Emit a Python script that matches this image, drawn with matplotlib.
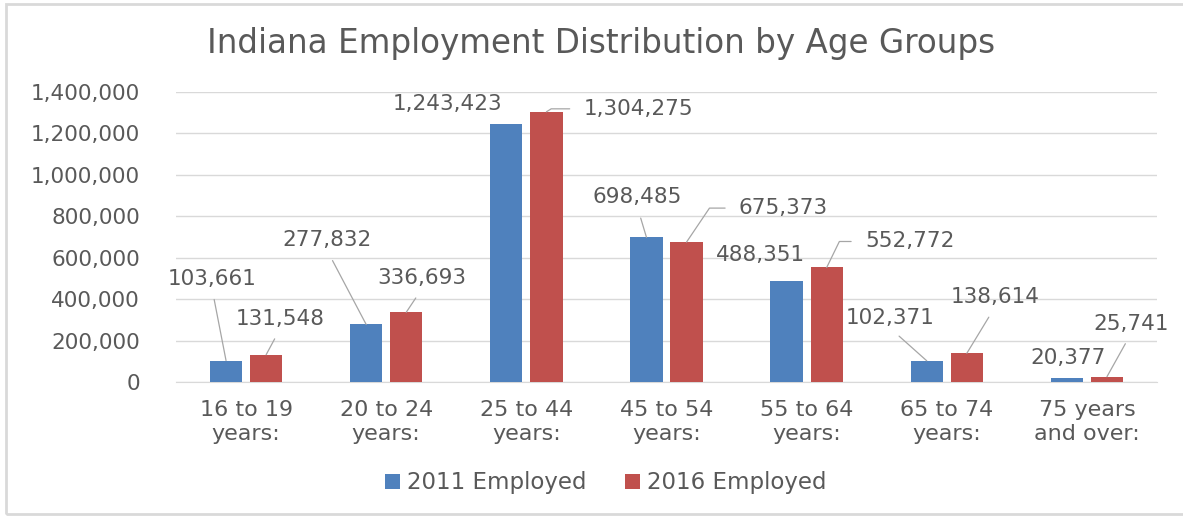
import numpy as np
import matplotlib.pyplot as plt
from matplotlib.patches import Rectangle

# --------------------
# Data
# --------------------
age_groups = ["16 to 19\nyears:", "20 to 24\nyears:", "25 to 44\nyears:", "45 to 54\nyears:",
              "55 to 64\nyears:", "65 to 74\nyears:", "75 years\nand over:"]
employed_2011 = [103661, 277832, 1243423, 698485, 488351, 102371, 20377]
employed_2016 = [131548, 336693, 1304275, 675373, 552772, 138614, 25741]

# callout placement: offset of label centre from bar top (pixels),
# and where the leader line leaves the label ("bottom", "left" or None)
offsets_2011 = [(-14, 82), (-39, 84), (-59, 20), (-9, 40), (-26, 26), (-37, 43), (1, 20)]
leaders_2011 = ["bottom", "bottom", None, "bottom", None, "bottom", None]
offsets_2016 = [(14, 36), (16, 34), (92, 3), (97, 34), (83, 26), (28, 56), (24, 53)]
leaders_2016 = ["bottom", "bottom", "left", "left", "left", "bottom", "bottom"]
left_angles_2016 = [None, None, 32, 56, 64, None, None]

BLUE = "#4F81BD"
RED = "#C0504D"
TEXT = "#595959"
GRID = "#D9D9D9"
LEADER = "#A6A6A6"

plt.rcParams['font.family'] = ['DejaVu Sans']

fig = plt.figure(figsize=(11.83, 5.18), dpi=100)
ax = fig.add_axes([176 / 1183, 1 - 382 / 518, 981 / 1183, 290 / 518])

x = np.arange(len(age_groups))
w = 0.23
off = 0.143
b1 = ax.bar(x - off, employed_2011, w, color=BLUE, label="2011 Employed", zorder=3)
b2 = ax.bar(x + off, employed_2016, w, color=RED, label="2016 Employed", zorder=3)

ax.set_xlim(-0.5, len(age_groups) - 0.5)
ax.set_ylim(0, 1400000)
ax.set_yticks(np.arange(0, 1400001, 200000))
ax.yaxis.set_major_formatter(plt.FuncFormatter(lambda v, p: f"{int(v):,}"))
ax.grid(axis="y", color=GRID, lw=1, zorder=0)
for s in ax.spines.values():
    s.set_visible(False)
ax.spines["bottom"].set_visible(True)
ax.spines["bottom"].set_color(GRID)
ax.tick_params(axis="both", length=0, labelcolor=TEXT)
ax.tick_params(axis="y", pad=26, labelsize=15.5)
ax.tick_params(axis="x", pad=13, labelsize=16)
ax.set_xticks(x)
ax.set_xticklabels(age_groups, linespacing=1.25)


def label_bars(xs, vals, offsets, leaders, angles):
    for xi, v, (dx, dy), ld, ang in zip(xs, vals, offsets, leaders, angles):
        arrow = None
        if ld == "bottom":
            arrow = dict(arrowstyle="-", color=LEADER, lw=0.9, relpos=(0.5, 0.0),
                         shrinkA=6, shrinkB=0)
        elif ld == "left":
            arrow = dict(arrowstyle="-", color=LEADER, lw=0.9, relpos=(0.0, 0.5),
                         shrinkA=8, shrinkB=0,
                         connectionstyle=f"angle,angleA=0,angleB={ang},rad=0")
        ax.annotate(f"{v:,}", xy=(xi, v), xytext=(dx, dy), textcoords="offset pixels",
                    ha="center", va="center", fontsize=15.5, color=TEXT,
                    arrowprops=arrow, zorder=4)


label_bars(x - off, employed_2011, offsets_2011, leaders_2011, [None] * len(x))
label_bars(x + off, employed_2016, offsets_2016, leaders_2016, left_angles_2016)

fig.text(601 / 1183, 1 - 44 / 518, "Indiana Employment Distribution by Age Groups",
         ha="center", va="center", fontsize=23.5, color=TEXT)

fig.legend(handles=[b1, b2], loc="center", bbox_to_anchor=(606 / 1183, 1 - 483 / 518),
           ncol=2, frameon=False, fontsize=16.5, labelcolor=TEXT, handlelength=0.65,
           handleheight=0.65, handletextpad=0.3, columnspacing=1.7)

# outer chart frame
fig.add_artist(Rectangle((6 / 1183, 4 / 518), 1.1, 510 / 518, transform=fig.transFigure,
                         fill=False, ec="#D9D9D9", lw=2))

fig.savefig("out.png", dpi=100)
